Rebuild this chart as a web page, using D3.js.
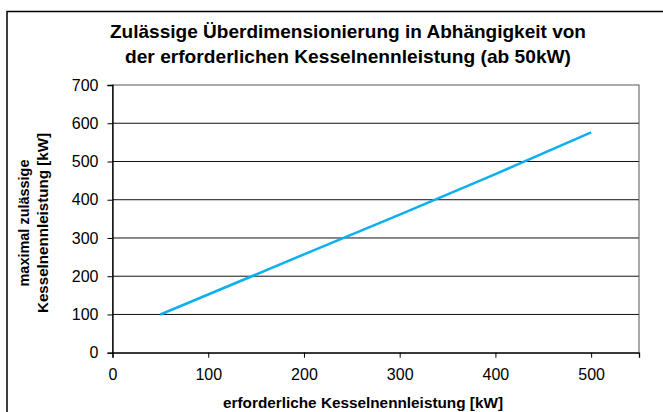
<!DOCTYPE html>
<html>
<head>
<meta charset="utf-8">
<script src="https://cdn.jsdelivr.net/npm/d3@7"></script>
<style>
  html, body { margin:0; padding:0; background:#fff; }
  svg { display:block; font-family:"Liberation Sans", Arial, sans-serif; }
</style>
</head>
<body>
<div id="chart"></div>
<script>
// Data
const leistung   = [50, 100, 200, 300, 400, 500];        // erforderliche Kesselnennleistung [kW]
const maxLeistung = [100, 152, 257, 361, 467, 576];      // maximal zulässige Kesselnennleistung [kW]
const xTicks = [0, 100, 200, 300, 400, 500];
const yTicks = [0, 100, 200, 300, 400, 500, 600, 700];
const titleLines = ['Zulässige Überdimensionierung in Abhängigkeit von', 'der erforderlichen Kesselnennleistung (ab 50kW)'];
const yTitleLines = ['maximal zulässige', 'Kesselnennleistung [kW]'];
const xTitle = 'erforderliche Kesselnennleistung [kW]';

const width = 663, height = 412;
const plot = { left:112.5, right:639, top:85, bottom:352.7 };

const svg = d3.select('#chart').append('svg')
  .attr('width', width).attr('height', height);

// chart frame (runs off the right and bottom edge like the original)
svg.append('rect')
  .attr('x', 7).attr('y', 11.5).attr('width', 720).attr('height', 440)
  .attr('fill', '#fff').attr('stroke', '#000').attr('stroke-width', 1.5);

const x = d3.scaleLinear().domain([0, 550]).range([plot.left, plot.right]);
const y = d3.scaleLinear().domain([0, 700]).range([plot.bottom, plot.top]);

// gridlines
svg.append('g')
  .selectAll('line')
  .data(yTicks.filter(d => d > 0 && d < 700))
  .join('line')
  .attr('x1', plot.left).attr('x2', plot.right)
  .attr('y1', d => y(d)).attr('y2', d => y(d))
  .attr('stroke', '#111').attr('stroke-width', 1);

// plot border
svg.append('rect')
  .attr('x', plot.left).attr('y', plot.top)
  .attr('width', plot.right - plot.left).attr('height', plot.bottom - plot.top)
  .attr('fill', 'none').attr('stroke', '#555').attr('stroke-width', 1);

// axes
const yAxis = svg.append('g')
  .attr('transform', `translate(${plot.left},0)`)
  .call(d3.axisLeft(y).tickValues(yTicks).tickSize(5).tickPadding(9));
const xAxis = svg.append('g')
  .attr('transform', `translate(0,${plot.bottom})`)
  .call(d3.axisBottom(x).tickValues(xTicks).tickSize(5).tickPadding(11));

[xAxis, yAxis].forEach(a => {
  a.select('.domain').attr('stroke', '#000').attr('stroke-width', 1.3);
  a.selectAll('.tick line').attr('stroke', '#000');
  a.selectAll('.tick text')
    .attr('font-family', '"Liberation Sans", Arial, sans-serif')
    .attr('font-size', 16).attr('fill', '#000');
});

// series line
const line = d3.line().x((d, i) => x(leistung[i])).y(d => y(d));
svg.append('path')
  .datum(maxLeistung)
  .attr('d', line)
  .attr('fill', 'none')
  .attr('stroke', '#0db0ee')
  .attr('stroke-width', 2.6);

// title
svg.append('g').selectAll('text')
  .data(titleLines)
  .join('text')
  .attr('x', 348).attr('y', (d, i) => 38 + i * 24.5)
  .attr('text-anchor', 'middle')
  .attr('font-size', 19).attr('font-weight', 'bold')
  .attr('textLength', (d, i) => [476, 446][i])
  .attr('lengthAdjust', 'spacingAndGlyphs')
  .text(d => d);

// y axis title
svg.append('g').selectAll('text')
  .data(yTitleLines)
  .join('text')
  .attr('transform', (d, i) => `translate(${24 + i * 19},223) rotate(-90)`)
  .attr('dy', '0.36em')
  .attr('text-anchor', 'middle')
  .attr('font-size', 15).attr('font-weight', 'bold')
  .attr('textLength', (d, i) => [127, 180][i])
  .attr('lengthAdjust', 'spacingAndGlyphs')
  .text(d => d);

// x axis title (sits at the very bottom edge, as in the original)
svg.append('text')
  .attr('x', 363).attr('y', 408)
  .attr('text-anchor', 'middle')
  .attr('font-size', 15).attr('font-weight', 'bold')
  .attr('textLength', 280)
  .attr('lengthAdjust', 'spacingAndGlyphs')
  .text(xTitle);
</script>
</body>
</html>
